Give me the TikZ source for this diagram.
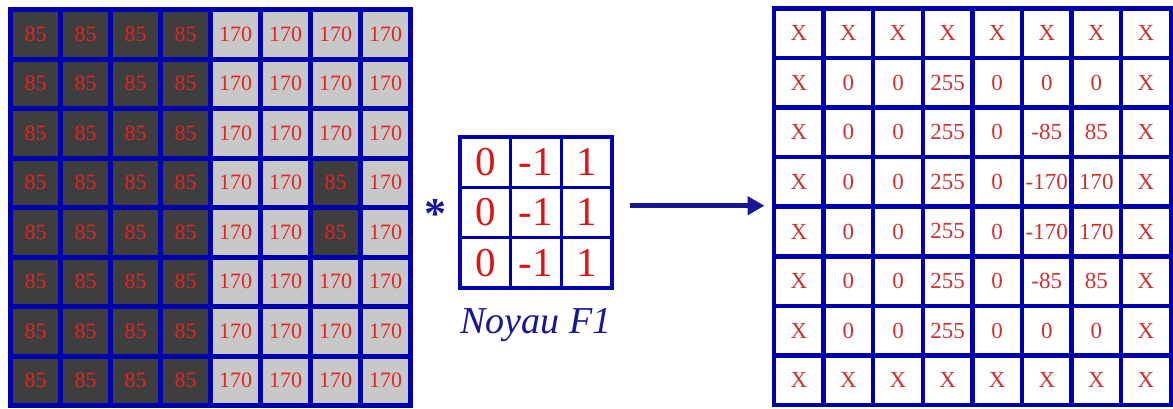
\documentclass[tikz,border=0pt]{standalone}
\usepackage{fontspec}
\setmainfont{Liberation Serif}
\usetikzlibrary{fit,calc,arrows.meta}

\definecolor{gridblue}{RGB}{0,0,172}
\definecolor{darkcell}{RGB}{62,62,62}
\definecolor{lightcell}{RGB}{200,200,200}
\definecolor{valred}{RGB}{228,36,36}
\definecolor{outred}{RGB}{205,50,50}
\definecolor{kred}{RGB}{220,20,20}
\definecolor{navy}{RGB}{22,22,150}

\tikzset{
  incell/.style={draw=gridblue, line width=5pt, minimum width=50pt,
    minimum height=49.5pt, inner sep=0pt, text=valred,
    font=\fontsize{22}{22}\selectfont},
  v85/.style={incell, fill=darkcell},
  v170/.style={incell, fill=lightcell},
  outcell/.style={draw=gridblue, line width=4.5pt, minimum width=49.6pt,
    minimum height=49.55pt, inner sep=0pt, fill=white, text=outred,
    font=\fontsize{23}{23}\selectfont},
  kcell/.style={draw=gridblue, line width=3.5pt, minimum width=50.7pt,
    minimum height=50.3pt, inner sep=0pt, fill=white, text=kred,
    font=\fontsize{41}{41}\selectfont},
  flow/.style={draw=navy, line width=5pt,
    -{Triangle[length=17pt,width=18pt]}},
}

\begin{document}
\begin{tikzpicture}[x=1pt, y=-1pt]
\useasboundingbox (0,0) rectangle (1173,408);

% input image, 8x8
\foreach \row [count=\r from 0] in {
  {85,85,85,85,170,170,170,170},
  {85,85,85,85,170,170,170,170},
  {85,85,85,85,170,170,170,170},
  {85,85,85,85,170,170,85,170},
  {85,85,85,85,170,170,85,170},
  {85,85,85,85,170,170,170,170},
  {85,85,85,85,170,170,170,170},
  {85,85,85,85,170,170,170,170}} {
  \foreach \t [count=\c from 0] in \row {
    \node[v\t] (L-\r-\c) at ({10.5+50*\c+25},{9.5+49.5*\r+24.75}) {\t};
  }
}

% convolution kernel F1
\foreach \r in {0,1,2} {
  \foreach \t [count=\c from 0] in {0,-1,1} {
    \node[kcell] (K-\r-\c) at ({460+50.7*\c+25.35},{137+50.3*\r+25.15}) {\t};
  }
}
\node[fit=(K-0-0)(K-2-2), inner sep=0pt] (K) {};

\node[anchor=north, inner sep=0pt, text=navy,
  font=\fontsize{44}{44}\selectfont\bfseries] (star) at (435,199) {*};

\node[anchor=base, inner sep=0pt, text=navy,
  font=\fontsize{38}{38}\selectfont\itshape] (title) at (536,333) {Noyau F1};

% output image, 8x8
\foreach \row [count=\r from 0] in {
  {X,X,X,X,X,X,X,X},
  {X,0,0,255,0,0,0,X},
  {X,0,0,255,0,-85,85,X},
  {X,0,0,255,0,-170,170,X},
  {X,0,0,255,0,-170,170,X},
  {X,0,0,255,0,-85,85,X},
  {X,0,0,255,0,0,0,X},
  {X,X,X,X,X,X,X,X}} {
  \foreach \t [count=\c from 0] in \row {
    \node[outcell] (R-\r-\c) at ({774+49.6*\c+24.8},{8.5+49.55*\r+24.775}) {\t};
  }
}
\node[fit=(R-0-0)(R-7-7), inner sep=0pt] (R) {};

\draw[flow] ($(K.east |- R.west)+(16,-1)$) -- ($(R.west)+(-7,-1)$);
\end{tikzpicture}
\end{document}
